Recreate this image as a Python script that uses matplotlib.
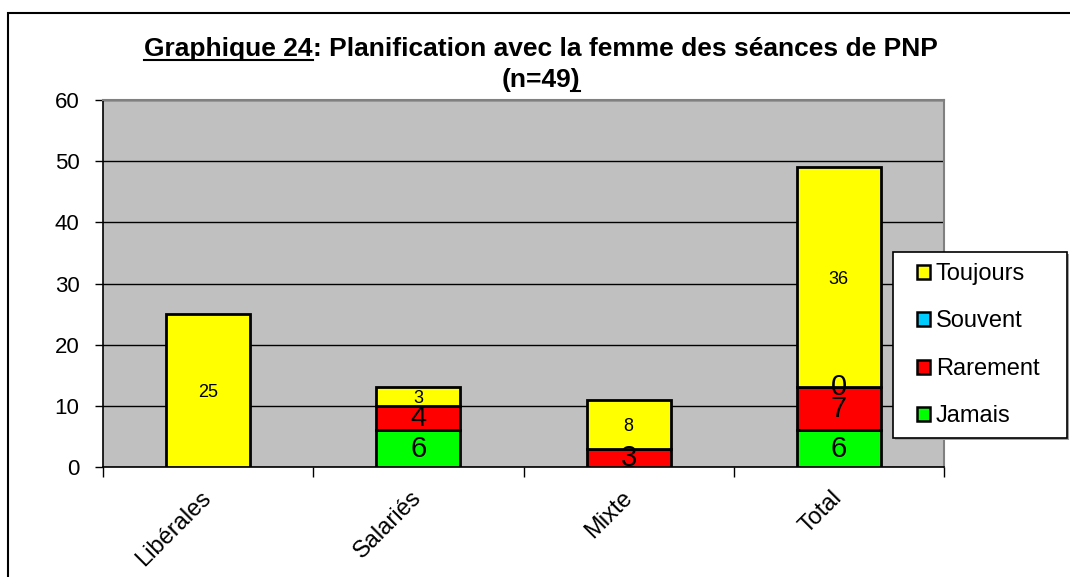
import matplotlib
matplotlib.use('Agg')
import matplotlib.pyplot as plt
import numpy as np
from matplotlib.patches import Rectangle, Patch
from matplotlib.lines import Line2D

categories = ['Libérales', 'Salariés', 'Mixte', 'Total']
series_names = ['Jamais', 'Rarement', 'Souvent', 'Toujours']
jamais = [np.nan, 6, np.nan, 6]
rarement = [np.nan, 4, 3, 7]
souvent = [np.nan, np.nan, np.nan, 0]
toujours = [25, 3, 8, 36]
colors = ['#00FF00', '#FF0000', '#00CCFF', '#FFFF00']
yticks = [0, 10, 20, 30, 40, 50, 60]
title_part1 = 'Graphique 24'
title_part2 = ': Planification avec la femme des séances de PNP'
title_line2 = '(n=49)'

plt.rcParams['font.family'] = ['Liberation Sans', 'DejaVu Sans']
W, H = 1070, 577
fig = plt.figure(figsize=(W / 100, H / 100), dpi=100)
ax = fig.add_axes([103 / W, 1 - 467 / H, (944 - 103) / W, (467 - 100) / H])
ax.set_facecolor('#C0C0C0')

x = np.arange(len(categories)) + 0.5
bottom = np.zeros(len(categories))
series = [jamais, rarement, souvent, toujours]
label_sizes = [21, 21, 21, 13]
label_va = ['center', 'center', 'center', 'center_baseline']
handles = []
for name, vals, c, fs, va in zip(series_names, series, colors, label_sizes, label_va):
    v = np.array(vals, float)
    h = np.nan_to_num(v)
    ax.bar(x, h, 0.4, bottom=bottom, color=c, edgecolor='black',
           linewidth=2, zorder=3)
    for xi, b, vi in zip(x, bottom, v):
        if not np.isnan(vi):
            ax.text(xi, b + vi / 2, f'{int(vi)}', ha='center', va=va,
                    fontsize=fs, zorder=4, color='black')
    bottom += h
    handles.append(Patch(facecolor=c, edgecolor='black', linewidth=1.8, label=name))

ax.set_xlim(0, len(categories))
ax.set_ylim(0, 60)
ax.set_yticks(yticks)
ax.yaxis.grid(True, color='black', linewidth=1, zorder=1)
ax.set_axisbelow(True)
ax.tick_params(axis='y', direction='out', length=6, width=1, labelsize=16, pad=11)
ax.set_xticks(x)
ax.set_xticklabels(categories, rotation=45, ha='right', rotation_mode='anchor',
                   va='center', fontsize=17)
ax.set_xticks(np.arange(len(categories) + 1), minor=True)
ax.tick_params(axis='x', which='major', length=0, pad=20)
ax.tick_params(axis='x', which='minor', direction='out', length=7, width=1)
for s in ['top', 'right']:
    ax.spines[s].set_color('#808080')
    ax.spines[s].set_linewidth(1.5)
for s in ['left', 'bottom']:
    ax.spines[s].set_color('black')
    ax.spines[s].set_linewidth(1.2)

# Legend frame (with slight shadow) and entries
fig.patches.append(Rectangle((895 / W, 1 - 440 / H), 174 / W, 186 / H,
                             transform=fig.transFigure, facecolor='#A0A0A0',
                             edgecolor='none', zorder=4))
fig.patches.append(Rectangle((893 / W, 1 - 438 / H), 174 / W, 186 / H,
                             transform=fig.transFigure, facecolor='white',
                             edgecolor='black', linewidth=1.2, zorder=5))
leg = fig.legend(handles[::-1], [h.get_label() for h in handles[::-1]],
                 loc='upper left', bbox_to_anchor=(917 / W, 1 - 263 / H),
                 frameon=False, fontsize=17,
                 labelspacing=1.08, handlelength=0.55, handleheight=0.55,
                 handletextpad=0.25, borderpad=0, borderaxespad=0)
leg.set_zorder(6)

# Figure border
fig.patches.append(Rectangle((8 / W, -0.1), 1.2, 1 - 13 / H + 0.1,
                             transform=fig.transFigure, fill=False,
                             edgecolor='black', linewidth=1.5))

# Title with underline
fig.canvas.draw()
r = fig.canvas.get_renderer()
tfs = 19
cx = 541
y1 = H - 56
t1 = fig.text(0, y1 / H, title_part1, fontsize=tfs, fontweight='bold', va='baseline')
t2 = fig.text(0, y1 / H, title_part2, fontsize=tfs, fontweight='bold', va='baseline')
w1 = t1.get_window_extent(r).width
w2 = t2.get_window_extent(r).width
x0 = cx - (w1 + w2) / 2
t1.set_x(x0 / W)
t2.set_x((x0 + w1) / W)
fig.add_artist(Line2D([x0 / W, (x0 + w1) / W], [(y1 - 4) / H, (y1 - 4) / H],
                      transform=fig.transFigure, color='black', linewidth=1.5))
y2 = H - 87
t3 = fig.text(cx / W, y2 / H, title_line2, fontsize=tfs, fontweight='bold',
              va='baseline', ha='center')
bb = t3.get_window_extent(r)
tp = fig.text(0, 0, ')', fontsize=tfs, fontweight='bold')
wp = tp.get_window_extent(r).width
tp.remove()
fig.add_artist(Line2D([(bb.x1 - wp) / W, bb.x1 / W], [(y2 - 4) / H, (y2 - 4) / H],
                      transform=fig.transFigure, color='black', linewidth=1.5))

fig.savefig('out.png', dpi=100, facecolor='white')
